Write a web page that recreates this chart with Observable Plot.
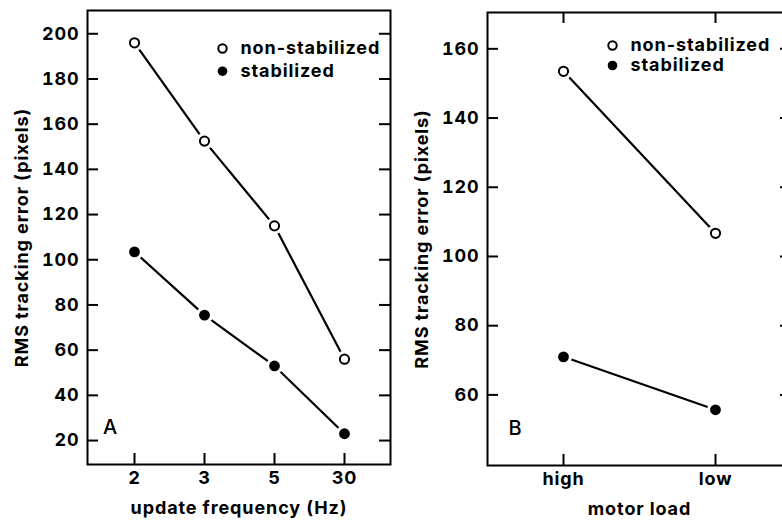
<!DOCTYPE html>
<html><head><meta charset="utf-8">
<script src="https://cdn.jsdelivr.net/npm/d3@7"></script>
<script src="https://cdn.jsdelivr.net/npm/@observablehq/plot@0.6"></script>
<style>
html,body{margin:0;padding:0;background:#fff;}
#wrap{width:782px;height:523px;overflow:hidden;display:flex;flex-wrap:nowrap;}
#wrap svg{flex:none;display:block;}
</style></head><body><div id="wrap"></div>
<script>
// Panel A
const freqLabels = ["2", "3", "5", "30"];
const nonStabilizedA = [196, 152.5, 115, 56];
const stabilizedA = [103.5, 75.5, 53, 23];
const yTicksA = [20, 40, 60, 80, 100, 120, 140, 160, 180, 200];
// Panel B
const loadLabels = ["high", "low"];
const nonStabilizedB = [153.5, 106.7];
const stabilizedB = [71, 55.7];
const yTicksB = [60, 80, 100, 120, 140, 160];
const seriesNames = ["non-stabilized", "stabilized"];

function panel(o) {
  const fw = o.width - o.mL - o.mR;
  const fh = 523 - o.mT - o.mB;
  const rowsNon = o.cats.map((c, i) => ({cat: c, value: o.non[i], series: seriesNames[0]}));
  const rowsStab = o.cats.map((c, i) => ({cat: c, value: o.stab[i], series: seriesNames[1]}));
  const rows = rowsNon.concat(rowsStab);
  const tl = 11;
  const marks = [
    Plot.frame({stroke: "black", strokeWidth: 2}),
    Plot.tickY(o.yTicks, {y: d => d, insetRight: fw - tl, strokeWidth: 2}),
    Plot.tickY(o.yTicks, {y: d => d, insetLeft: fw - tl, strokeWidth: 2}),
    Plot.tickX(o.cats, {x: d => d, insetTop: fh - tl, strokeWidth: 2}),
    Plot.axisY({ticks: o.yTicks, tickSize: 0, tickPadding: 8, label: null}),
    Plot.axisX({tickSize: 0, tickPadding: 7, label: null}),
    Plot.line(rows, {x: "cat", y: "value", z: "series", stroke: "black", strokeWidth: 2.2}),
    Plot.dot(rows, {x: "cat", y: "value", r: 8.5, fill: "white"}),
    Plot.dot(rowsNon, {x: "cat", y: "value", r: 4.6, stroke: "black", strokeWidth: 2, fill: "white"}),
    Plot.dot(rowsStab, {x: "cat", y: "value", r: 5.4, fill: "black"}),
    // legend
    Plot.dot([seriesNames[0]], {frameAnchor: "top-left", dx: o.legDx, dy: o.legDy, r: 4.2, stroke: "black", strokeWidth: 2, fill: "white"}),
    Plot.dot([seriesNames[1]], {frameAnchor: "top-left", dx: o.legDx, dy: o.legDy + o.legGap, r: 4.8, fill: "black"}),
    Plot.text([seriesNames[0]], {text: d => d, frameAnchor: "top-left", dx: o.legDx + 18, dy: o.legDy, textAnchor: "start", lineAnchor: "middle"}),
    Plot.text([seriesNames[1]], {text: d => d, frameAnchor: "top-left", dx: o.legDx + 18, dy: o.legDy + o.legGap, textAnchor: "start", lineAnchor: "middle"}),
    // labels
    Plot.text([o.letter], {text: d => d, frameAnchor: "bottom-left", dx: o.letDx, dy: -37, textAnchor: "middle", lineAnchor: "middle", fontWeight: 500, fontSize: 20}),
    Plot.text([o.xLabel], {text: d => d, frameAnchor: "bottom", dy: 44, lineAnchor: "middle"}),
    Plot.text(["RMS tracking error (pixels)"], {text: d => d, frameAnchor: "left", dx: o.yLabDx, rotate: -90, textAnchor: "middle", lineAnchor: "middle"})
  ];
  if (o.topTicks) marks.push(Plot.tickX(o.cats, {x: d => d, insetBottom: fh - tl, strokeWidth: 2}));
  return Plot.plot({
    width: o.width, height: 523,
    marginLeft: o.mL, marginRight: o.mR, marginTop: o.mT, marginBottom: o.mB,
    x: {type: "point", domain: o.cats, padding: o.padding},
    y: {domain: o.yDomain},
    style: {fontFamily: "Inter, 'DejaVu Sans', sans-serif", fontSize: "18px", fontWeight: 700, letterSpacing: "0.9px", color: "black", background: "white", overflow: "visible"},
    marks
  });
}

const wrap = document.getElementById("wrap");
wrap.appendChild(panel({
  cats: freqLabels, non: nonStabilizedA, stab: stabilizedA, yTicks: yTicksA,
  yDomain: [9.4, 210.3], width: 400, mL: 87, mR: 10, mT: 10, mB: 59, padding: 0.65,
  xLabel: "update frequency (Hz)", letter: "A", letDx: 23, topTicks: false,
  legDx: 135, legDy: 38, legGap: 22.7, yLabDx: -65
}));
wrap.appendChild(panel({
  cats: loadLabels, non: nonStabilizedB, stab: stabilizedB, yTicks: yTicksB,
  yDomain: [39.6, 170.5], width: 391, mL: 87, mR: 0, mT: 12, mB: 58, padding: 0.5,
  xLabel: "motor load", letter: "B", letDx: 28, topTicks: true,
  legDx: 125, legDy: 33, legGap: 20, yLabDx: -65
}));
</script></body></html>
